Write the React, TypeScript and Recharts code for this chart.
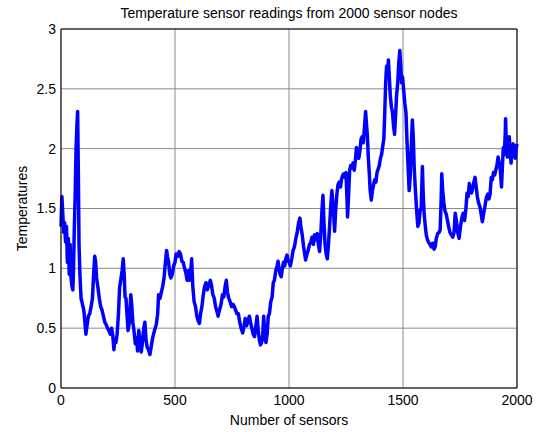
import { LineChart, Line, XAxis, YAxis, CartesianGrid, ReferenceLine, Label } from 'recharts';

const chartTitle = 'Temperature sensor readings from 2000 sensor nodes';
const xLabel = 'Number of sensors';
const yLabel = 'Temperatures';

const xTicks = [0, 500, 1000, 1500, 2000];
const yTicks = [0, 0.5, 1, 1.5, 2, 2.5, 3];

// sensor index -> reading
const sensorIds = [
  0, 4, 8, 12, 16, 20, 24, 28, 32, 36, 40, 44, 48, 52, 55, 58, 62, 66, 70, 73,
  76, 79, 83, 88, 94, 100, 105, 109, 114, 120, 126, 132, 138, 143, 148, 152, 156, 162, 168, 174,
  180, 186, 192, 198, 204, 210, 216, 222, 227, 232, 236, 241, 246, 252, 257, 262, 268, 273, 277, 281,
  285, 290, 294, 300, 306, 310, 315, 320, 326, 331, 336, 341, 346, 352, 357, 363, 368, 373, 378, 384,
  390, 396, 402, 410, 418, 424, 428, 434, 440, 446, 452, 458, 463, 467, 472, 477, 482, 488, 494, 500,
  505, 512, 518, 524, 530, 536, 542, 548, 553, 558, 563, 568, 573, 578, 584, 590, 596, 602, 607, 612,
  618, 624, 630, 636, 642, 648, 655, 660, 666, 672, 678, 684, 689, 695, 702, 708, 714, 720, 725, 730,
  736, 742, 748, 754, 760, 766, 772, 778, 784, 790, 797, 803, 808, 814, 820, 826, 831, 837, 843, 849,
  855, 860, 865, 870, 875, 880, 885, 889, 894, 899, 904, 909, 914, 920, 926, 931, 936, 942, 948, 952,
  956, 961, 966, 971, 976, 981, 986, 991, 996, 1001, 1006, 1012, 1018, 1024, 1030, 1036, 1042, 1048, 1052, 1058,
  1064, 1069, 1073, 1079, 1084, 1090, 1096, 1101, 1107, 1112, 1118, 1124, 1129, 1134, 1140, 1145, 1149, 1153, 1158, 1163,
  1168, 1173, 1178, 1183, 1188, 1192, 1196, 1200, 1205, 1210, 1215, 1220, 1226, 1231, 1236, 1241, 1246, 1250, 1254, 1257,
  1261, 1266, 1271, 1276, 1281, 1286, 1291, 1296, 1301, 1306, 1311, 1316, 1321, 1326, 1331, 1336, 1340, 1344, 1348, 1352,
  1356, 1361, 1366, 1371, 1376, 1381, 1386, 1391, 1396, 1401, 1406, 1411, 1416, 1420, 1424, 1428, 1432, 1436, 1440, 1444,
  1449, 1454, 1459, 1463, 1468, 1472, 1477, 1481, 1486, 1490, 1494, 1498, 1503, 1508, 1513, 1518, 1523, 1527, 1531, 1536,
  1541, 1545, 1549, 1553, 1557, 1561, 1565, 1570, 1575, 1580, 1585, 1589, 1593, 1597, 1602, 1607, 1612, 1618, 1624, 1630,
  1636, 1641, 1646, 1652, 1658, 1663, 1667, 1670, 1674, 1679, 1684, 1690, 1695, 1700, 1706, 1712, 1718, 1724, 1729, 1734,
  1740, 1746, 1752, 1758, 1764, 1770, 1776, 1781, 1786, 1791, 1796, 1801, 1806, 1811, 1816, 1821, 1826, 1831, 1838, 1843,
  1848, 1853, 1857, 1862, 1867, 1872, 1877, 1882, 1887, 1892, 1897, 1902, 1907, 1912, 1917, 1922, 1927, 1932, 1936, 1940,
  1944, 1948, 1950, 1953, 1958, 1962, 1966, 1970, 1974, 1978, 1983, 1988, 1992, 1996, 2000,
];

const temps = [
  1.35, 1.6, 1.45, 1.3, 1.38, 1.22, 1.35, 1.05, 1.25, 0.95, 1.2, 0.92, 0.85, 0.82, 1.0, 1.3, 1.6, 2.0, 2.2, 2.31,
  1.8, 1.2, 0.95, 0.75, 0.7, 0.65, 0.55, 0.45, 0.52, 0.6, 0.62, 0.68, 0.75, 0.95, 1.1, 1.05, 0.92, 0.84, 0.75, 0.68,
  0.65, 0.6, 0.55, 0.53, 0.5, 0.48, 0.45, 0.5, 0.44, 0.32, 0.4, 0.38, 0.45, 0.62, 0.84, 0.9, 0.98, 1.08, 0.95, 0.76,
  0.75, 0.6, 0.48, 0.55, 0.78, 0.7, 0.55, 0.48, 0.37, 0.42, 0.31, 0.48, 0.4, 0.3, 0.38, 0.5, 0.55, 0.4, 0.34, 0.32,
  0.28, 0.35, 0.42, 0.48, 0.53, 0.62, 0.78, 0.75, 0.8, 0.85, 0.92, 1.05, 1.15, 1.1, 1.05, 0.95, 0.92, 0.95, 1.02, 1.05,
  1.12, 1.1, 1.14, 1.12, 1.06, 1.05, 1.0, 0.96, 0.9, 0.98, 0.9, 0.95, 1.08, 0.85, 0.72, 0.68, 0.6, 0.56, 0.54, 0.62,
  0.68, 0.78, 0.85, 0.88, 0.82, 0.86, 0.9, 0.86, 0.78, 0.75, 0.68, 0.64, 0.6, 0.65, 0.7, 0.78, 0.76, 0.85, 0.9, 0.8,
  0.75, 0.72, 0.68, 0.7, 0.68, 0.65, 0.62, 0.62, 0.55, 0.5, 0.46, 0.52, 0.58, 0.52, 0.56, 0.6, 0.55, 0.5, 0.45, 0.43,
  0.52, 0.6, 0.48, 0.4, 0.36, 0.38, 0.45, 0.6, 0.42, 0.38, 0.45, 0.6, 0.62, 0.72, 0.76, 0.88, 0.9, 0.98, 1.02, 1.06,
  1.0, 0.95, 0.93, 1.0, 1.05, 1.02, 1.08, 1.11, 1.06, 1.05, 1.02, 1.08, 1.15, 1.18, 1.25, 1.3, 1.38, 1.42, 1.35, 1.28,
  1.18, 1.12, 1.07, 1.12, 1.15, 1.2, 1.22, 1.26, 1.2, 1.28, 1.24, 1.29, 1.2, 1.14, 1.3, 1.5, 1.61, 1.4, 1.2, 1.12,
  1.08, 1.2, 1.35, 1.52, 1.65, 1.55, 1.45, 1.31, 1.5, 1.62, 1.7, 1.72, 1.68, 1.75, 1.78, 1.79, 1.76, 1.8, 1.6, 1.43,
  1.6, 1.82, 1.86, 1.84, 1.88, 1.82, 1.9, 2.01, 1.95, 1.92, 1.98, 2.08, 2.1, 2.05, 2.18, 2.31, 2.2, 2.1, 1.92, 1.8,
  1.65, 1.57, 1.65, 1.7, 1.74, 1.72, 1.8, 1.83, 1.86, 1.92, 1.95, 2.02, 2.08, 2.3, 2.55, 2.69, 2.6, 2.74, 2.6, 2.45,
  2.35, 2.3, 2.18, 2.12, 2.3, 2.45, 2.55, 2.7, 2.82, 2.7, 2.55, 2.6, 2.49, 2.38, 2.3, 2.04, 1.82, 1.65, 1.75, 2.0,
  2.24, 2.1, 1.85, 1.7, 1.57, 1.45, 1.35, 1.38, 1.48, 1.51, 1.85, 1.6, 1.45, 1.37, 1.28, 1.24, 1.22, 1.2, 1.18, 1.21,
  1.16, 1.18, 1.25, 1.29, 1.3, 1.32, 1.55, 1.79, 1.65, 1.55, 1.48, 1.45, 1.4, 1.35, 1.3, 1.28, 1.26, 1.3, 1.46, 1.4,
  1.3, 1.25, 1.35, 1.42, 1.46, 1.4, 1.5, 1.63, 1.6, 1.71, 1.66, 1.63, 1.67, 1.72, 1.76, 1.68, 1.6, 1.55, 1.51, 1.45,
  1.39, 1.45, 1.49, 1.55, 1.6, 1.62, 1.58, 1.62, 1.76, 1.74, 1.8, 1.78, 1.82, 1.86, 1.93, 1.88, 1.82, 1.68, 1.85, 2.01,
  1.95, 2.1, 2.25, 2.05, 1.93, 2.02, 2.1, 1.98, 1.88, 2.0, 2.04, 1.96, 1.92, 2.0, 2.04,
];

const data = sensorIds.map((id, i) => ({ sensor: id, temp: temps[i] }));

const FONT = '"Liberation Sans", Arial, Helvetica, sans-serif';

export default function App() {
  return (
    <div style={{ position: 'relative', width: 539, height: 432, fontFamily: FONT }}>
      <style>{'body{margin:0;}'}</style>
      <div
        style={{
          position: 'absolute',
          top: 6,
          left: 61,
          width: 456,
          textAlign: 'center',
          fontSize: 14,
          lineHeight: '14px',
          color: '#000',
        }}
      >
        {chartTitle}
      </div>
      <LineChart
        width={539}
        height={432}
        data={data}
        margin={{ top: 29, right: 22, left: 0, bottom: 0 }}
      >
        <CartesianGrid stroke="#8a8a8a" strokeWidth={1} />
        <XAxis
          dataKey="sensor"
          type="number"
          domain={[0, 2000]}
          ticks={xTicks}
          height={44}
          tickSize={0}
          tickMargin={7}
          tickLine={false}
          axisLine={{ stroke: '#000' }}
          tick={{ fontSize: 14, fill: '#000', fontFamily: FONT }}
        >
          <Label
            content={({ viewBox }: any) => (
              <text
                x={viewBox.x + viewBox.width / 2}
                y={viewBox.y + 37}
                textAnchor="middle"
                fontSize={14}
                fontFamily={FONT}
                fill="#000"
              >
                {xLabel}
              </text>
            )}
          />
        </XAxis>
        <YAxis
          type="number"
          domain={[0, 3]}
          ticks={yTicks}
          width={61}
          tickSize={0}
          tickMargin={5}
          tickLine={false}
          axisLine={{ stroke: '#000' }}
          tick={{ fontSize: 14, fill: '#000', fontFamily: FONT }}
        >
          <Label
            content={({ viewBox }: any) => {
              const cx = 27;
              const cy = viewBox.y + viewBox.height / 2;
              return (
                <text
                  x={cx}
                  y={cy}
                  transform={`rotate(-90, ${cx}, ${cy})`}
                  textAnchor="middle"
                  fontSize={14}
                  fontFamily={FONT}
                  fill="#000"
                >
                  {yLabel}
                </text>
              );
            }}
          />
        </YAxis>
        <ReferenceLine y={3} stroke="#000" strokeWidth={1} />
        <ReferenceLine x={2000} stroke="#000" strokeWidth={1} />
        <Line
          type="linear"
          dataKey="temp"
          stroke="#0000ff"
          strokeWidth={3.5}
          strokeLinejoin="round"
          dot={false}
          isAnimationActive={false}
        />
      </LineChart>
    </div>
  );
}
